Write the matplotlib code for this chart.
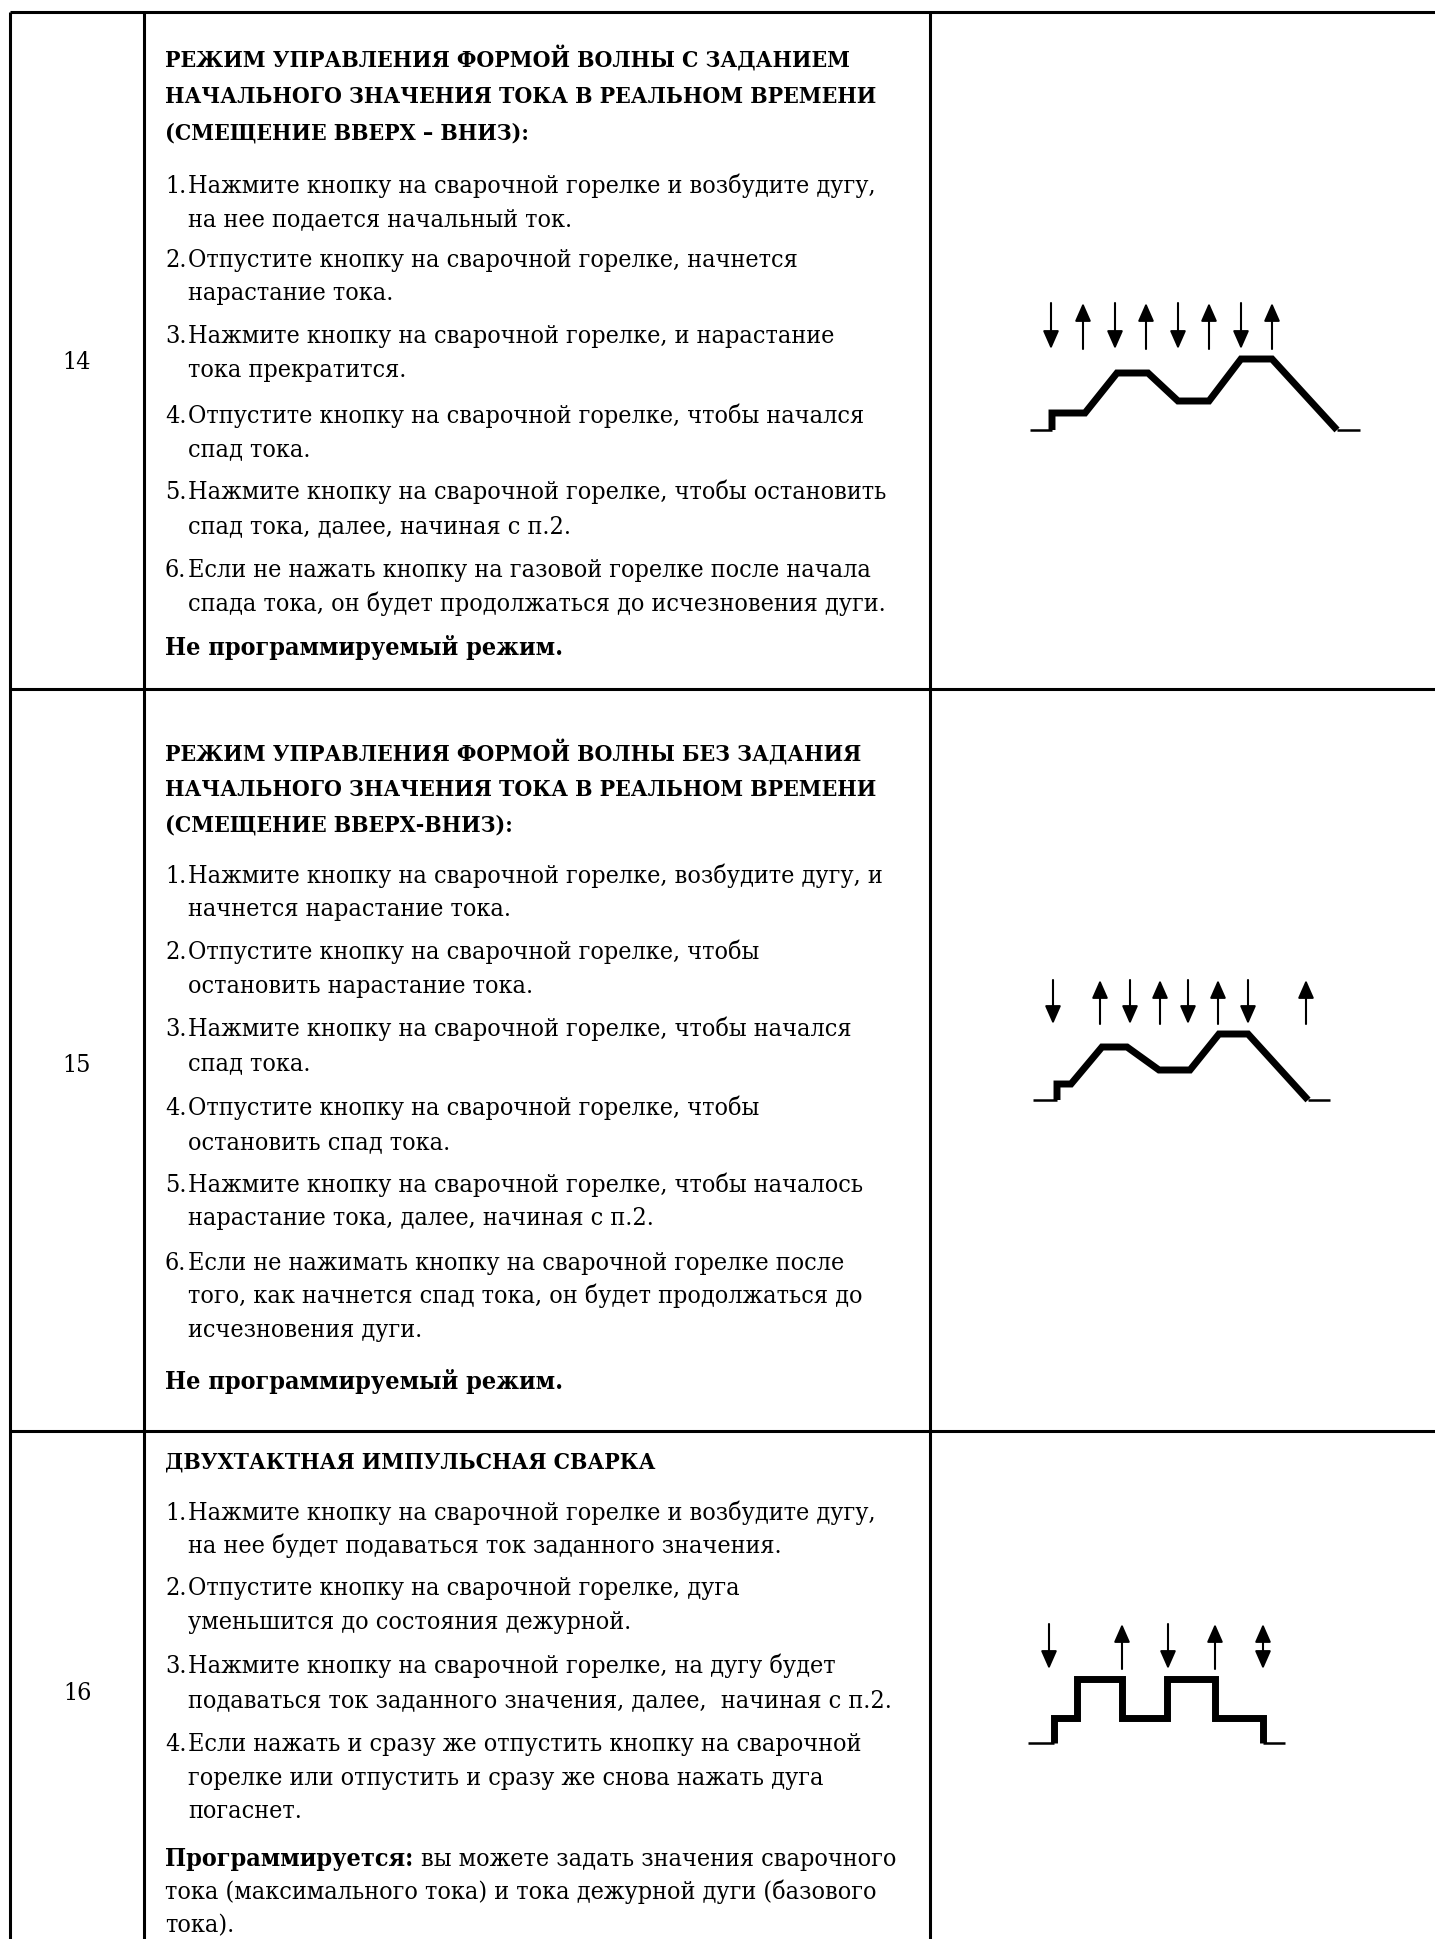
import os
import matplotlib
matplotlib.use('Agg')
import matplotlib.pyplot as plt
from matplotlib import font_manager
from matplotlib.font_manager import FontProperties

W, H, DPI = 1435, 1939, 100

# ---------------- content ----------------
row_numbers = ['14', '15', '16']

title_14 = ['РЕЖИМ УПРАВЛЕНИЯ ФОРМОЙ ВОЛНЫ С ЗАДАНИЕМ',
            'НАЧАЛЬНОГО ЗНАЧЕНИЯ ТОКА В РЕАЛЬНОМ ВРЕМЕНИ',
            '(СМЕЩЕНИЕ ВВЕРХ – ВНИЗ):']
items_14 = [
    ['Нажмите кнопку на сварочной горелке и возбудите дугу,', 'на нее подается начальный ток.'],
    ['Отпустите кнопку на сварочной горелке, начнется', 'нарастание тока.'],
    ['Нажмите кнопку на сварочной горелке, и нарастание', 'тока прекратится.'],
    ['Отпустите кнопку на сварочной горелке, чтобы начался', 'спад тока.'],
    ['Нажмите кнопку на сварочной горелке, чтобы остановить', 'спад тока, далее, начиная с п.2.'],
    ['Если не нажать кнопку на газовой горелке после начала',
     'спада тока, он будет продолжаться до исчезновения дуги.'],
]
footer_14 = 'Не программируемый режим.'

title_15 = ['РЕЖИМ УПРАВЛЕНИЯ ФОРМОЙ ВОЛНЫ БЕЗ ЗАДАНИЯ',
            'НАЧАЛЬНОГО ЗНАЧЕНИЯ ТОКА В РЕАЛЬНОМ ВРЕМЕНИ',
            '(СМЕЩЕНИЕ ВВЕРХ-ВНИЗ):']
items_15 = [
    ['Нажмите кнопку на сварочной горелке, возбудите дугу, и', 'начнется нарастание тока.'],
    ['Отпустите кнопку на сварочной горелке, чтобы', 'остановить нарастание тока.'],
    ['Нажмите кнопку на сварочной горелке, чтобы начался', 'спад тока.'],
    ['Отпустите кнопку на сварочной горелке, чтобы', 'остановить спад тока.'],
    ['Нажмите кнопку на сварочной горелке, чтобы началось', 'нарастание тока, далее, начиная с п.2.'],
    ['Если не нажимать кнопку на сварочной горелке после',
     'того, как начнется спад тока, он будет продолжаться до',
     'исчезновения дуги.'],
]
footer_15 = 'Не программируемый режим.'

title_16 = ['ДВУХТАКТНАЯ ИМПУЛЬСНАЯ СВАРКА']
items_16 = [
    ['Нажмите кнопку на сварочной горелке и возбудите дугу,', 'на нее будет подаваться ток заданного значения.'],
    ['Отпустите кнопку на сварочной горелке, дуга', 'уменьшится до состояния дежурной.'],
    ['Нажмите кнопку на сварочной горелке, на дугу будет',
     'подаваться ток заданного значения, далее,  начиная с п.2.'],
    ['Если нажать и сразу же отпустить кнопку на сварочной',
     'горелке или отпустить и сразу же снова нажать дуга',
     'погаснет.'],
]
footer_16_bold = 'Программируется:'
footer_16_lines = ['вы можете задать значения сварочного',
                   'тока (максимального тока) и тока дежурной дуги (базового',
                   'тока).']

# ---------------- waveform data (time / current, 10-px units) ----------------
wave14_t = [0, 0, 3.3, 6.5, 9.6, 12.6, 15.7, 18.9, 22.0, 28.5]
wave14_i = [0, 1.7, 1.7, 5.7, 5.7, 2.9, 2.9, 7.1, 7.1, 0]
base14_t = [(-2.2, 0), (28.5, 30.8)]
arrows14_t = [-0.1, 3.1, 6.3, 9.4, 12.6, 15.7, 18.9, 22.0]
arrows14_dir = ['down', 'up', 'down', 'up', 'down', 'up', 'down', 'up']

wave15_t = [0, 0, 1.4, 4.5, 7.0, 10.2, 13.3, 16.2, 19.1, 25.1]
wave15_i = [0, 1.6, 1.6, 5.3, 5.3, 3.0, 3.0, 6.6, 6.6, 0]
base15_t = [(-2.4, 0), (25.1, 27.3)]
arrows15_t = [-0.4, 4.3, 7.3, 10.3, 13.1, 16.1, 19.1, 24.9]
arrows15_dir = ['down', 'up', 'down', 'up', 'down', 'up', 'down', 'up']

wave16_t = [0, 0, 2.3, 2.3, 6.8, 6.8, 11.3, 11.3, 16.1, 16.1, 20.9, 20.9]
wave16_i = [0, 2.5, 2.5, 6.4, 6.4, 2.5, 2.5, 6.4, 6.4, 2.5, 2.5, 0]
base16_t = [(-2.6, 0), (20.9, 23.1)]
arrows16_t = [-0.5, 6.8, 11.4, 16.1, 20.9]
arrows16_dir = ['down', 'up', 'down', 'up', 'both']

# ---------------- layout ----------------
X_LEFT, X_COL1, X_COL2 = 10, 144, 930
Y_TOP, Y_ROW1, Y_ROW2 = 12, 689, 1431
X_NUM, X_TXT, X_IND = 165, 165, 188
RIGHT_LIMIT = 914
NUM_X = 77
NUM_Y = [361, 1064, 1692]

title_y = [[59, 95, 131], [753, 788, 823], [1460]]
items_y = [
    [[186, 219], [260, 293], [336, 370], [416, 449], [492, 526], [570, 604]],
    [[876, 909], [952, 986], [1029, 1063], [1108, 1142], [1185, 1218], [1263, 1296, 1330]],
    [[1513, 1546], [1588, 1622], [1666, 1700], [1744, 1778, 1811]],
]
footer_y = [648, 1382]
footer16_y = [1859, 1892, 1925]

diag_origin = [(1052, 430), (1057, 1100), (1054, 1743)]
arrow_span = [(8.1, 12.7), (7.6, 12.0), (7.4, 11.9)]


def find_font(names):
    for f in font_manager.fontManager.ttflist:
        if os.path.basename(f.fname) in names:
            return f.fname
    return None


reg_path = find_font(['DejaVuSerifCondensed.ttf'])
bold_path = find_font(['DejaVuSerifCondensed-Bold.ttf'])
if not (reg_path and bold_path):
    reg_path = find_font(['LiberationSerif-Regular.ttf'])
    bold_path = find_font(['LiberationSerif-Bold.ttf'])


def fp(bold, size):
    path = bold_path if bold else reg_path
    if path:
        return FontProperties(fname=path, size=size)
    return FontProperties(family='DejaVu Serif', weight='bold' if bold else 'normal', size=size)


fig = plt.figure(figsize=(W / DPI, H / DPI), dpi=DPI)
fig.patch.set_facecolor('white')
ax = fig.add_axes([0, 0, 1, 1])
ax.set_xlim(0, W)
ax.set_ylim(H, 0)
ax.axis('off')
renderer = fig.canvas.get_renderer()


def text_width(s, prop):
    t = ax.text(0, 0, s, fontproperties=prop)
    w = t.get_window_extent(renderer).width
    t.remove()
    return w


# fit font sizes so the widest body line ends at the reference right margin
REF = 18
all_body = [ln for grp in (items_14, items_15, items_16) for it in grp for ln in it]
body_size = min(REF * (RIGHT_LIMIT - X_IND) / text_width(s, fp(False, REF)) for s in all_body)
fb = text_width(footer_16_bold + ' ' + footer_16_lines[0], fp(False, REF)) * 1.06
body_size = min(body_size, REF * (RIGHT_LIMIT - X_TXT) / fb)
title_size = REF * 684 / text_width(title_14[0], fp(True, REF))
body_px = body_size * DPI / 72
title_px = title_size * DPI / 72
BODY = fp(False, body_size)
BOLD_BODY = fp(True, body_size)
TITLE = fp(True, title_size)

# ---------------- table grid ----------------
LW = 2.2
for x in (X_LEFT, X_COL1, X_COL2):
    ax.plot([x, x], [Y_TOP, H + 5], color='black', lw=LW, solid_capstyle='butt')
for y in (Y_TOP, Y_ROW1, Y_ROW2):
    ax.plot([X_LEFT, W + 5], [y, y], color='black', lw=LW, solid_capstyle='butt')


def put(x, yc, s, prop, px, caps=False):
    off = (0.36 if caps else 0.28) * px
    ax.text(x, yc + off, s, fontproperties=prop, va='baseline', ha='left', color='black')


for k, num in enumerate(row_numbers):
    ax.text(NUM_X, NUM_Y[k] + 0.34 * body_px, num, fontproperties=BODY,
            ha='center', va='baseline', color='black')

titles = [title_14, title_15, title_16]
items = [items_14, items_15, items_16]
footers = [footer_14, footer_15]

for r in range(3):
    for s, y in zip(titles[r], title_y[r]):
        put(X_TXT, y, s, TITLE, title_px, caps=True)
    for n, (lines, ys) in enumerate(zip(items[r], items_y[r])):
        put(X_NUM, ys[0], f'{n + 1}.', BODY, body_px)
        for s, y in zip(lines, ys):
            put(X_IND, y, s, BODY, body_px)
    if r < 2:
        put(X_TXT, footer_y[r], footers[r], BOLD_BODY, body_px)

wb = text_width(footer_16_bold + ' ', BOLD_BODY)
put(X_TXT, footer16_y[0], footer_16_bold, BOLD_BODY, body_px)
put(X_TXT + wb, footer16_y[0], footer_16_lines[0], BODY, body_px)
for s, y in zip(footer_16_lines[1:], footer16_y[1:]):
    put(X_TXT, y, s, BODY, body_px)

# ---------------- diagrams ----------------
waves = [(wave14_t, wave14_i, base14_t, arrows14_t, arrows14_dir),
         (wave15_t, wave15_i, base15_t, arrows15_t, arrows15_dir),
         (wave16_t, wave16_i, base16_t, arrows16_t, arrows16_dir)]

for (x0, y0), (alo, ahi), (wt, wi, bt, at, ad) in zip(diag_origin, arrow_span, waves):
    xl, xr = x0 - 40, x0 + 340
    yt, yb = y0 - 140, y0 + 20
    dax = fig.add_axes([xl / W, 1 - yb / H, (xr - xl) / W, (yb - yt) / H])
    dax.set_xlim((xl - x0) / 10, (xr - x0) / 10)
    dax.set_ylim((y0 - yb) / 10, (y0 - yt) / 10)
    dax.axis('off')
    dax.patch.set_alpha(0)
    for a, b in bt:
        dax.plot([a, b], [0, 0], color='black', lw=1.8, solid_capstyle='butt')
    dax.plot(wt, wi, color='black', lw=5.0, solid_joinstyle='miter', solid_capstyle='butt')
    for t, d in zip(at, ad):
        if d == 'down':
            tip, tail, style = alo, ahi, '-|>,head_length=0.5,head_width=0.22'
        elif d == 'up':
            tip, tail, style = ahi, alo, '-|>,head_length=0.5,head_width=0.22'
        else:
            tip, tail, style = ahi, alo, '<|-|>,head_length=0.5,head_width=0.22'
        dax.annotate('', xy=(t, tip), xytext=(t, tail),
                     arrowprops=dict(arrowstyle=style, lw=1.5, color='black',
                                     mutation_scale=22, shrinkA=0, shrinkB=0))

fig.savefig('out.png', dpi=DPI, facecolor='white')
